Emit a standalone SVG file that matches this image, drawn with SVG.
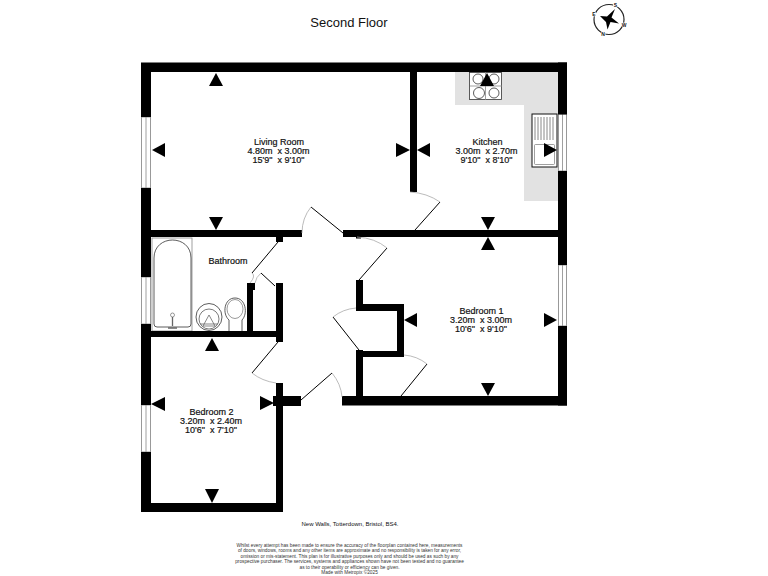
<svg xmlns="http://www.w3.org/2000/svg" width="768" height="576" viewBox="0 0 768 576">
<style>
text{font-family:"Liberation Sans",Arial,sans-serif;text-anchor:middle;fill:#111;white-space:pre}
.lab{font-size:9px;stroke:#111;stroke-width:.2px}
.foot{font-size:4.75px;fill:#333}
.wall{fill:#000}
.win{fill:#fff;stroke:#999;stroke-width:1}
.door{fill:none;stroke:#000;stroke-width:1}
.arc{fill:none;stroke:#aaa;stroke-width:.8}
.fix{fill:#fff;stroke:#333;stroke-width:.8}
.fr{fill:none;stroke:#888;stroke-width:.8}
.tri{fill:#000}
</style>
<rect width="768" height="576" fill="#fff"/>
<text x="349" y="27" font-size="13" fill="#222">Second Floor</text>

<g id="compass">
<circle cx="609" cy="19.500" r="15" fill="none" stroke="#222" stroke-width="1.200"/>
<path class="tri" d="M615 9L611.500 17.500 619 23.500 610.500 22 607.500 29.500 606 22 600 16 607 16.500Z"/>
<g font-size="5" font-weight="bold">
<circle cx="615.500" cy="5" r="2.500" fill="#fff"/><text x="615.500" y="6.800">S</text>
<circle cx="624" cy="25" r="2.500" fill="#fff"/><text x="624" y="26.800">W</text>
<circle cx="603" cy="34" r="2.500" fill="#fff"/><text x="603" y="35.800">N</text>
<circle cx="594" cy="14" r="2.500" fill="#fff"/><text x="594" y="15.800">E</text>
</g>
</g>

<g id="kitchen-units">
<path d="M455 72H558V201H524V105H455Z" fill="#e2e2e2"/>
<rect class="fix" x="469.500" y="72.500" width="32" height="27"/>
<path class="fr" d="M485.500 72V100M470 86H502"/>
<g fill="none" stroke="#333" stroke-width=".8">
<circle cx="478" cy="79" r="5"/><circle cx="494" cy="79" r="5"/><circle cx="479" cy="93" r="5.500"/><circle cx="494" cy="93" r="5"/>
</g>
<rect x="532" y="114" width="25" height="53" fill="#fff" stroke="#111" stroke-width="1"/>
<path d="M535 117V140M538 117V140M541 117V140M544 117V140M547 117V140M550 117V140M553 117V140" stroke="#888" stroke-width="1"/>
<rect x="534.500" y="144.500" width="20" height="20" rx="1" fill="#fff" stroke="#777" stroke-width=".7"/>
</g>

<g id="bathroom-fixtures">
<rect class="fr" x="152" y="238" width="40" height="93"/>
<path class="fix" d="M154 324V258C154 234 191 234 191 258V324Q191 327 188 327H157Q154 327 154 324Z"/>
<circle cx="172.500" cy="315" r="2" fill="#fff" stroke="#555" stroke-width=".6"/>
<path d="M172.500 317V326M168 328H177" stroke="#666" stroke-width="1.300"/>
<ellipse class="fix" cx="209" cy="317" rx="13" ry="13.500"/>
<ellipse cx="209" cy="319" rx="10" ry="10" fill="none" stroke="#444" stroke-width=".7"/>
<path d="M209 315L203 326H215ZM200 324H218" fill="none" stroke="#555" stroke-width=".7"/>
<path class="fix" d="M229 331V320C222 314 224 298 235 298C246 298 248 314 242 320V331"/>
<ellipse cx="235" cy="309" rx="8" ry="9.500" fill="none" stroke="#555" stroke-width=".6"/>
</g>

<g id="windows">
<rect class="win" x="141.500" y="117" width="9" height="71"/><path class="fr" d="M146 117V188"/>
<rect class="win" x="558.500" y="114" width="8" height="57"/><path class="fr" d="M562.500 114V171"/>
<rect class="win" x="141.500" y="277" width="9" height="47"/><path class="fr" d="M146 277V324"/>
<rect class="win" x="558.500" y="265" width="8" height="61"/><path class="fr" d="M562.500 265V326"/>
<rect class="win" x="141.500" y="405" width="9" height="47"/><path class="fr" d="M146 405V452"/>
</g>

<g id="walls" class="wall">
<path d="M141 62.500H567V72H151V117H141Z"/>
<rect x="558" y="62.500" width="9" height="52"/>
<rect x="558" y="171" width="9" height="94"/>
<rect x="558" y="326" width="9" height="79.500"/>
<rect x="141" y="188" width="10" height="89"/>
<rect x="141" y="324" width="10" height="81"/>
<rect x="141" y="452" width="10" height="60"/>
<rect x="141" y="503" width="142" height="9"/>
<rect x="410" y="72" width="7" height="120"/>
<rect x="151" y="230" width="151" height="7"/>
<rect x="343" y="230" width="215" height="7"/>
<rect x="276" y="237" width="7" height="5"/>
<rect x="151" y="331" width="132" height="6"/>
<rect x="276" y="283" width="7" height="59"/>
<rect x="247" y="283" width="6" height="48"/>
<rect x="247" y="283" width="8" height="7"/>
<rect x="276" y="383" width="7" height="129"/>
<rect x="273" y="396" width="28" height="10"/>
<rect x="342" y="396" width="225" height="9.500"/>
<rect x="356" y="280" width="7" height="31"/>
<rect x="356" y="304" width="48" height="7"/>
<rect x="397" y="304" width="7" height="53"/>
<rect x="356" y="351" width="48" height="6"/>
<rect x="356" y="350" width="7" height="50"/>
<rect x="356" y="237" width="5" height="1.500"/>
</g>

<g id="connectors">
<path class="door" d="M343 233L311 207M415 230L440 202M359 280L387 248M278 242L252 273M275 286L261 273M278 342L252 373M359 350L333 317M301 400L332 373M401 396L427 364"/>
<path class="arc" d="M311 207Q302 218 302 233M440 202Q427 193 410 192M387 248Q375 238 357 237M252 273Q256 276 250 283M261 273Q256 277 255 283M252 373Q262 381 276 383M333 317Q343 309 356 308M332 373Q341 384 342 397M427 364Q417 356 404 355"/>
</g>

<g id="dimension-arrows" class="tri">
<path d="M216 73L209 86H223Z"/>
<path d="M152 150L165 143V157Z"/>
<path d="M216 230L209 217H223Z"/>
<path d="M410 150L396 143V157Z"/>
<path d="M417 150L430 143V157Z"/>
<path d="M487 73L480 86H494Z"/>
<path d="M557 150L544 143V157Z"/>
<path d="M488 230L481 217H495Z"/>
<path d="M488 237L481 250H495Z"/>
<path d="M557 320L544 313V327Z"/>
<path d="M404 320L417 313V327Z"/>
<path d="M488 396L481 383H495Z"/>
<path d="M212 338L205 351H219Z"/>
<path d="M151 404L165 397V411Z"/>
<path d="M274 403L260 396V410Z"/>
<path d="M212 503L205 489H219Z"/>
</g>

<g id="living-room"><text class="lab" x="279" y="145">Living Room</text><text class="lab" x="278.500" y="154">4.80m  x 3.00m</text><text class="lab" x="278.500" y="163">15'9"  x 9'10"</text></g>
<g id="kitchen"><text class="lab" x="487.500" y="145">Kitchen</text><text class="lab" x="486.500" y="154">3.00m  x 2.70m</text><text class="lab" x="486.500" y="163">9'10"  x 8'10"</text></g>
<g id="bathroom"><text class="lab" x="228" y="264">Bathroom</text></g>
<g id="bedroom-1"><text class="lab" x="481.500" y="314">Bedroom 1</text><text class="lab" x="481" y="323">3.20m  x 3.00m</text><text class="lab" x="481" y="332">10'6"  x 9'10"</text></g>
<g id="bedroom-2"><text class="lab" x="211.500" y="415">Bedroom 2</text><text class="lab" x="211" y="424">3.20m  x 2.40m</text><text class="lab" x="211" y="433">10'6"  x 7'10"</text></g>

<g id="footer">
<text x="350" y="526" font-size="6" fill="#333">New Walls, Totterdown, Bristol, BS4.</text>
<text class="foot" x="349.500" y="546.500">Whilst every attempt has been made to ensure the accuracy of the floorplan contained here, measurements</text>
<text class="foot" x="349.500" y="552">of doors, windows, rooms and any other items are approximate and no responsibility is taken for any error,</text>
<text class="foot" x="349.500" y="557.500">omission or mis-statement. This plan is for illustrative purposes only and should be used as such by any</text>
<text class="foot" x="349.500" y="563">prospective purchaser. The services, systems and appliances shown have not been tested and no guarantee</text>
<text class="foot" x="349.500" y="568.500">as to their operability or efficiency can be given.</text>
<text class="foot" x="349.500" y="573.500">Made with Metropix ©2025</text>
</g>
</svg>
